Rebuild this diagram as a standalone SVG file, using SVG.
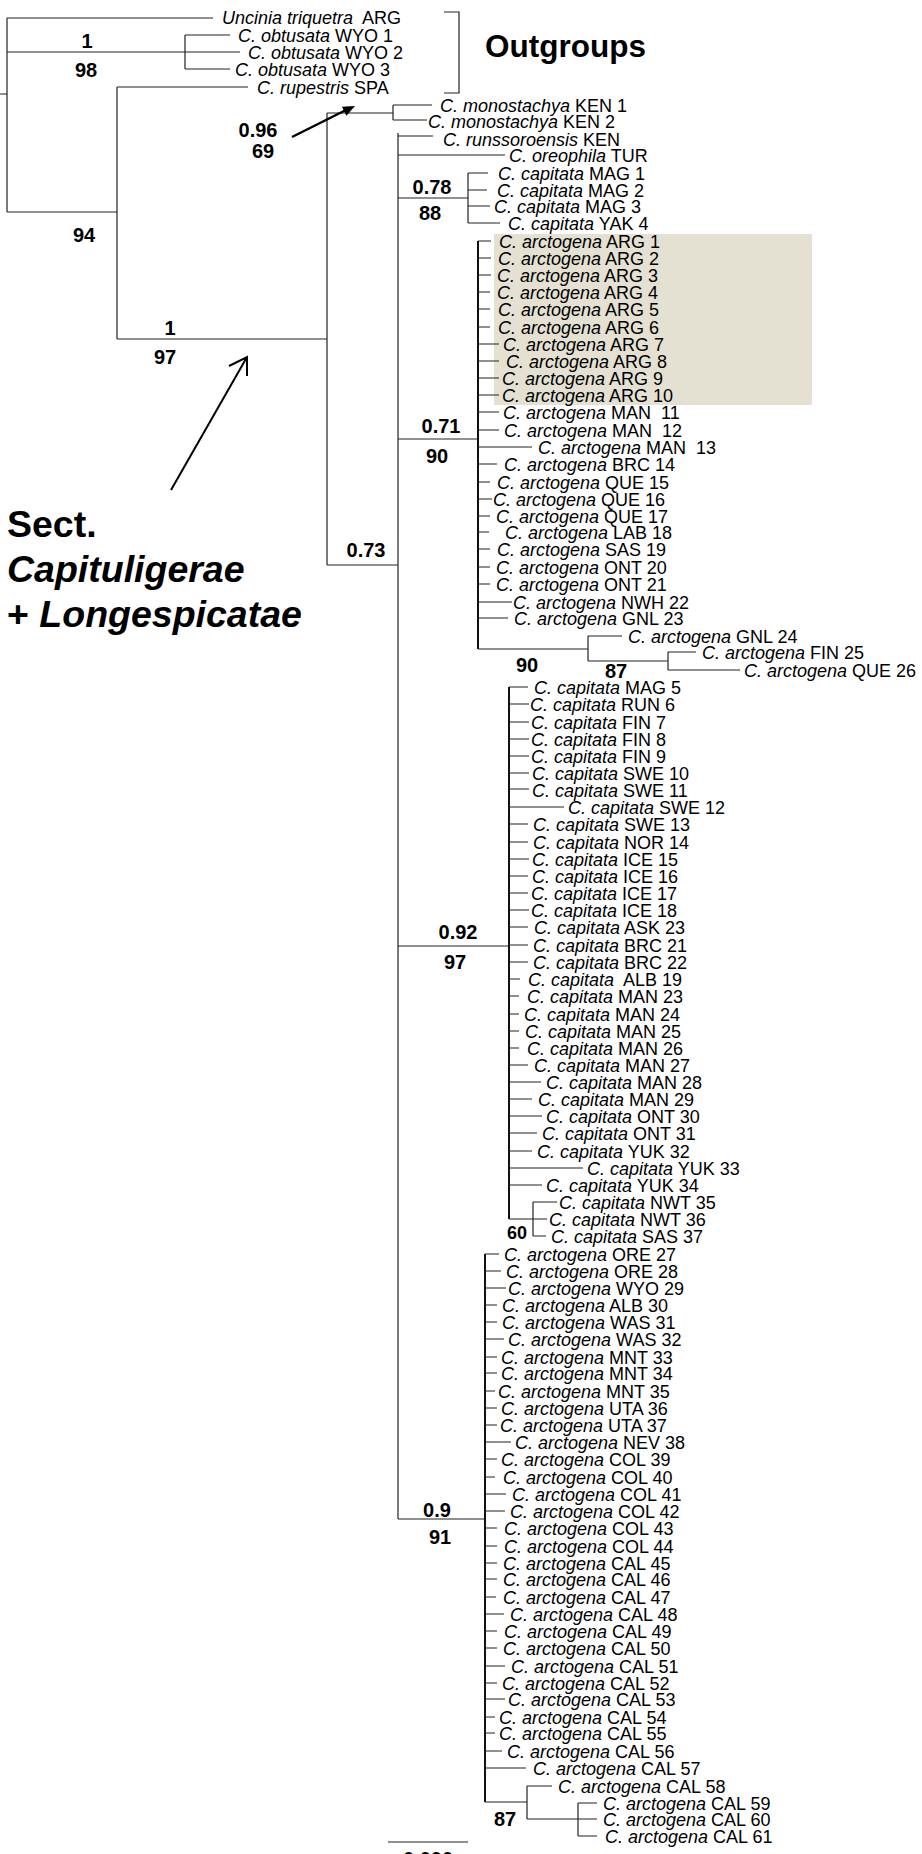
<svg xmlns="http://www.w3.org/2000/svg" width="922" height="1854" viewBox="0 0 922 1854">
<defs>
<style>
text{font-family:"Liberation Sans",Arial,sans-serif;fill:#000;white-space:pre}
.lf{font-size:18px}
.i{font-style:italic}
.s{font-size:20px;font-weight:bold;text-anchor:middle}
.br{fill:none;stroke:#222;stroke-width:1.2}
.th{fill:none;stroke:#111;stroke-width:2}
.big{font-size:37.5px;font-weight:bold}
</style>
</defs>
<rect width="922" height="1854" fill="#fff"/>
<rect id="highlight" x="494" y="234" width="318" height="171" fill="#E4E1D3"/>

<g id="connectors">
<path class="br" d="M0 94H7M7 18V212M7 18H213M7 52H185M7 212H117
M185 35V69M185 35H230M185 52H240M185 69H230
M117 87V339M117 87H248M117 339H327
M327 113V565M327 113H393M327 565H398
M393 105V120M393 105H432M393 120H427
M398 136H433M398 155H505M398 198H468M398 439H478M398 946H509M398 1519H485
M468 173V223M468 173H488M468 190H487M468 206H490M468 223H500"/>
<path class="br" d="M398 133V1519"/>
<path class="th" d="M478 241V649M509 687V1219M485 1254V1802"/>
<path class="br" d="M478 241H491M478 258H491M478 275H491M478 292H490M478 309H490M478 327H490M478 344H499M478 361H499M478 378H499M478 395H499M478 412H499M478 430H499M478 447H532M478 464H497M478 482H490M478 499H492M478 516H490M478 532H489M478 549H490M478 567H490M478 584H490M478 602H512M478 618H508M478 649H588
M588 636V661M588 636H622M588 661H668M668 652V670M668 652H696M668 670H740"/>
<path class="br" d="M509 687H528M509 704H529M509 722H529M509 739H529M509 756H529M509 773H529M509 789H529M509 807H564M509 824H528M509 842H528M509 859H529M509 876H528M509 893H528M509 910H529M509 927H528M509 945H528M509 962H528M509 979H520M509 996H519M509 1014H519M509 1031H519M509 1048H519M509 1065H528M509 1082H541M509 1099H532M509 1116H542M509 1133H537M509 1151H532M509 1168H583M509 1185H542M509 1219H533
M533 1202V1236M533 1202H557M533 1219H547M533 1236H546"/>
<path class="br" d="M485 1254H499M485 1271H501M485 1288H506M485 1305H497M485 1322H497M485 1339H504M485 1357H497M485 1373H497M485 1391H495M485 1408H497M485 1425H497M485 1442H511M485 1459H497M485 1477H495M485 1494H506M485 1511H505M485 1528H497M485 1546H497M485 1563H497M485 1579H497M485 1597H496M485 1614H504M485 1631H497M485 1648H497M485 1666H505M485 1683H497M485 1699H505M485 1717H495M485 1733H495M485 1751H502M485 1768H526M485 1802H527
M527 1786V1819M527 1786H552M527 1819H597M578 1803V1836M578 1803H597M578 1836H597"/>
<path id="bracket" class="br" stroke="#000" stroke-width="1.6" d="M444 12H459V93H444"/>
<path id="scalebar" class="br" d="M388 1842H468"/>
<path id="arrow1" d="M292 137L346 110" stroke="#000" stroke-width="2.5" fill="none"/>
<polygon points="355,106 346.4,115.8 342,106.8" fill="#000"/>
<path id="arrow2" d="M171 490L247 357M229 366L247 357L247 376" stroke="#000" stroke-width="2" fill="none"/>
</g>

<g id="support">
<text class="s" x="87" y="48">1</text>
<text class="s" x="86" y="77">98</text>
<text class="s" x="84" y="242">94</text>
<text class="s" x="258" y="137">0.96</text>
<text class="s" x="263" y="158">69</text>
<text class="s" x="170" y="335">1</text>
<text class="s" x="165" y="364">97</text>
<text class="s" x="432" y="194">0.78</text>
<text class="s" x="430" y="220">88</text>
<text class="s" x="441" y="433">0.71</text>
<text class="s" x="437" y="463">90</text>
<text class="s" x="366" y="557">0.73</text>
<text class="s" x="527" y="672">90</text>
<text class="s" x="616" y="678">87</text>
<text class="s" x="458" y="939">0.92</text>
<text class="s" x="455" y="969">97</text>
<text class="s" x="517" y="1239" style="font-size:18px">60</text>
<text class="s" x="437" y="1517">0.9</text>
<text class="s" x="440" y="1544">91</text>
<text class="s" x="505" y="1826">87</text>
<text class="s" x="428" y="1866">0.000</text>
</g>

<g id="titles">
<text x="485" y="57" style="font-size:31.5px;font-weight:bold">Outgroups</text>
<text class="big" x="7" y="537">Sect.</text>
<text class="big i" x="7" y="582">Capituligerae</text>
<text class="big" x="7" y="627">+ <tspan class="i">Longespicatae</tspan></text>
</g>

<g id="leaves" class="lf">
<g id="t-uncinia"><text class="lf" x="222" y="24"><tspan class="i">Uncinia triquetra</tspan>  ARG</text></g>
<g id="t-obt1"><text class="lf" x="238" y="42"><tspan class="i">C. obtusata</tspan> WYO 1</text></g>
<g id="t-obt2"><text class="lf" x="248" y="59"><tspan class="i">C. obtusata</tspan> WYO 2</text></g>
<g id="t-obt3"><text class="lf" x="235" y="76"><tspan class="i">C. obtusata</tspan> WYO 3</text></g>
<g id="t-rup"><text class="lf" x="257" y="94"><tspan class="i">C. rupestris</tspan> SPA</text></g>
<g id="t-ken1"><text class="lf" x="440" y="112"><tspan class="i">C. monostachya</tspan> KEN 1</text></g>
<g id="t-ken2"><text class="lf" x="428" y="128"><tspan class="i">C. monostachya</tspan> KEN 2</text></g>
<g id="t-runs"><text class="lf" x="443" y="146"><tspan class="i">C. runssoroensis</tspan> KEN</text></g>
<g id="t-ore"><text class="lf" x="509" y="162"><tspan class="i">C. oreophila</tspan> TUR</text></g>
<g id="t-mag1"><text class="lf" x="498" y="180"><tspan class="i">C. capitata</tspan> MAG 1</text></g>
<g id="t-mag2"><text class="lf" x="497" y="197"><tspan class="i">C. capitata</tspan> MAG 2</text></g>
<g id="t-mag3"><text class="lf" x="494" y="213"><tspan class="i">C. capitata</tspan> MAG 3</text></g>
<g id="t-yak4"><text class="lf" x="508" y="230"><tspan class="i">C. capitata</tspan> YAK 4</text></g>

<g id="t-arg1"><text class="lf" x="499" y="248"><tspan class="i">C. arctogena</tspan> ARG 1</text></g>
<g id="t-arg2"><text class="lf" x="498" y="265"><tspan class="i">C. arctogena</tspan> ARG 2</text></g>
<g id="t-arg3"><text class="lf" x="497" y="282"><tspan class="i">C. arctogena</tspan> ARG 3</text></g>
<g id="t-arg4"><text class="lf" x="497" y="299"><tspan class="i">C. arctogena</tspan> ARG 4</text></g>
<g id="t-arg5"><text class="lf" x="498" y="316"><tspan class="i">C. arctogena</tspan> ARG 5</text></g>
<g id="t-arg6"><text class="lf" x="498" y="334"><tspan class="i">C. arctogena</tspan> ARG 6</text></g>
<g id="t-arg7"><text class="lf" x="503" y="351"><tspan class="i">C. arctogena</tspan> ARG 7</text></g>
<g id="t-arg8"><text class="lf" x="506" y="368"><tspan class="i">C. arctogena</tspan> ARG 8</text></g>
<g id="t-arg9"><text class="lf" x="502" y="385"><tspan class="i">C. arctogena</tspan> ARG 9</text></g>
<g id="t-arg10"><text class="lf" x="502" y="402"><tspan class="i">C. arctogena</tspan> ARG 10</text></g>
<g id="t-man11"><text class="lf" x="503" y="419"><tspan class="i">C. arctogena</tspan> MAN  11</text></g>
<g id="t-man12"><text class="lf" x="504" y="437"><tspan class="i">C. arctogena</tspan> MAN  12</text></g>
<g id="t-man13"><text class="lf" x="538" y="454"><tspan class="i">C. arctogena</tspan> MAN  13</text></g>
<g id="t-brc14"><text class="lf" x="504" y="471"><tspan class="i">C. arctogena</tspan> BRC 14</text></g>
<g id="t-que15"><text class="lf" x="497" y="489"><tspan class="i">C. arctogena</tspan> QUE 15</text></g>
<g id="t-que16"><text class="lf" x="493" y="506"><tspan class="i">C. arctogena</tspan> QUE 16</text></g>
<g id="t-que17"><text class="lf" x="496" y="523"><tspan class="i">C. arctogena</tspan> QUE 17</text></g>
<g id="t-lab18"><text class="lf" x="505" y="539"><tspan class="i">C. arctogena</tspan> LAB 18</text></g>
<g id="t-sas19"><text class="lf" x="497" y="556"><tspan class="i">C. arctogena</tspan> SAS 19</text></g>
<g id="t-ont20"><text class="lf" x="496" y="574"><tspan class="i">C. arctogena</tspan> ONT 20</text></g>
<g id="t-ont21"><text class="lf" x="496" y="591"><tspan class="i">C. arctogena</tspan> ONT 21</text></g>
<g id="t-nwh22"><text class="lf" x="513" y="609"><tspan class="i">C. arctogena</tspan> NWH 22</text></g>
<g id="t-gnl23"><text class="lf" x="514" y="625"><tspan class="i">C. arctogena</tspan> GNL 23</text></g>
<g id="t-gnl24"><text class="lf" x="628" y="643"><tspan class="i">C. arctogena</tspan> GNL 24</text></g>
<g id="t-fin25"><text class="lf" x="702" y="659"><tspan class="i">C. arctogena</tspan> FIN 25</text></g>
<g id="t-que26"><text class="lf" x="744" y="677"><tspan class="i">C. arctogena</tspan> QUE 26</text></g>

<g id="t-mag5"><text class="lf" x="534" y="694"><tspan class="i">C. capitata</tspan> MAG 5</text></g>
<g id="t-run6"><text class="lf" x="530" y="711"><tspan class="i">C. capitata</tspan> RUN 6</text></g>
<g id="t-fin7"><text class="lf" x="531" y="729"><tspan class="i">C. capitata</tspan> FIN 7</text></g>
<g id="t-fin8"><text class="lf" x="531" y="746"><tspan class="i">C. capitata</tspan> FIN 8</text></g>
<g id="t-fin9"><text class="lf" x="531" y="763"><tspan class="i">C. capitata</tspan> FIN 9</text></g>
<g id="t-swe10"><text class="lf" x="532" y="780"><tspan class="i">C. capitata</tspan> SWE 10</text></g>
<g id="t-swe11"><text class="lf" x="532" y="797"><tspan class="i">C. capitata</tspan> SWE 11</text></g>
<g id="t-swe12"><text class="lf" x="568" y="814"><tspan class="i">C. capitata</tspan> SWE 12</text></g>
<g id="t-swe13"><text class="lf" x="533" y="831"><tspan class="i">C. capitata</tspan> SWE 13</text></g>
<g id="t-nor14"><text class="lf" x="533" y="849"><tspan class="i">C. capitata</tspan> NOR 14</text></g>
<g id="t-ice15"><text class="lf" x="532" y="866"><tspan class="i">C. capitata</tspan> ICE 15</text></g>
<g id="t-ice16"><text class="lf" x="532" y="883"><tspan class="i">C. capitata</tspan> ICE 16</text></g>
<g id="t-ice17"><text class="lf" x="531" y="900"><tspan class="i">C. capitata</tspan> ICE 17</text></g>
<g id="t-ice18"><text class="lf" x="531" y="917"><tspan class="i">C. capitata</tspan> ICE 18</text></g>
<g id="t-ask23"><text class="lf" x="534" y="934"><tspan class="i">C. capitata</tspan> ASK 23</text></g>
<g id="t-brc21"><text class="lf" x="533" y="952"><tspan class="i">C. capitata</tspan> BRC 21</text></g>
<g id="t-brc22"><text class="lf" x="533" y="969"><tspan class="i">C. capitata</tspan> BRC 22</text></g>
<g id="t-alb19"><text class="lf" x="528" y="986"><tspan class="i">C. capitata</tspan>  ALB 19</text></g>
<g id="t-man23"><text class="lf" x="527" y="1003"><tspan class="i">C. capitata</tspan> MAN 23</text></g>
<g id="t-man24"><text class="lf" x="524" y="1021"><tspan class="i">C. capitata</tspan> MAN 24</text></g>
<g id="t-man25"><text class="lf" x="525" y="1038"><tspan class="i">C. capitata</tspan> MAN 25</text></g>
<g id="t-man26"><text class="lf" x="527" y="1055"><tspan class="i">C. capitata</tspan> MAN 26</text></g>
<g id="t-man27"><text class="lf" x="534" y="1072"><tspan class="i">C. capitata</tspan> MAN 27</text></g>
<g id="t-man28"><text class="lf" x="546" y="1089"><tspan class="i">C. capitata</tspan> MAN 28</text></g>
<g id="t-man29"><text class="lf" x="538" y="1106"><tspan class="i">C. capitata</tspan> MAN 29</text></g>
<g id="t-ont30"><text class="lf" x="546" y="1123"><tspan class="i">C. capitata</tspan> ONT 30</text></g>
<g id="t-ont31"><text class="lf" x="542" y="1140"><tspan class="i">C. capitata</tspan> ONT 31</text></g>
<g id="t-yuk32"><text class="lf" x="537" y="1158"><tspan class="i">C. capitata</tspan> YUK 32</text></g>
<g id="t-yuk33"><text class="lf" x="587" y="1175"><tspan class="i">C. capitata</tspan> YUK 33</text></g>
<g id="t-yuk34"><text class="lf" x="546" y="1192"><tspan class="i">C. capitata</tspan> YUK 34</text></g>
<g id="t-nwt35"><text class="lf" x="559" y="1209"><tspan class="i">C. capitata</tspan> NWT 35</text></g>
<g id="t-nwt36"><text class="lf" x="549" y="1226"><tspan class="i">C. capitata</tspan> NWT 36</text></g>
<g id="t-sas37"><text class="lf" x="551" y="1243"><tspan class="i">C. capitata</tspan> SAS 37</text></g>

<g id="t-ore27"><text class="lf" x="504" y="1261"><tspan class="i">C. arctogena</tspan> ORE 27</text></g>
<g id="t-ore28"><text class="lf" x="506" y="1278"><tspan class="i">C. arctogena</tspan> ORE 28</text></g>
<g id="t-wyo29"><text class="lf" x="508" y="1295"><tspan class="i">C. arctogena</tspan> WYO 29</text></g>
<g id="t-alb30"><text class="lf" x="502" y="1312"><tspan class="i">C. arctogena</tspan> ALB 30</text></g>
<g id="t-was31"><text class="lf" x="502" y="1329"><tspan class="i">C. arctogena</tspan> WAS 31</text></g>
<g id="t-was32"><text class="lf" x="508" y="1346"><tspan class="i">C. arctogena</tspan> WAS 32</text></g>
<g id="t-mnt33"><text class="lf" x="501" y="1364"><tspan class="i">C. arctogena</tspan> MNT 33</text></g>
<g id="t-mnt34"><text class="lf" x="501" y="1380"><tspan class="i">C. arctogena</tspan> MNT 34</text></g>
<g id="t-mnt35"><text class="lf" x="498" y="1398"><tspan class="i">C. arctogena</tspan> MNT 35</text></g>
<g id="t-uta36"><text class="lf" x="501" y="1415"><tspan class="i">C. arctogena</tspan> UTA 36</text></g>
<g id="t-uta37"><text class="lf" x="500" y="1432"><tspan class="i">C. arctogena</tspan> UTA 37</text></g>
<g id="t-nev38"><text class="lf" x="515" y="1449"><tspan class="i">C. arctogena</tspan> NEV 38</text></g>
<g id="t-col39"><text class="lf" x="501" y="1466"><tspan class="i">C. arctogena</tspan> COL 39</text></g>
<g id="t-col40"><text class="lf" x="503" y="1484"><tspan class="i">C. arctogena</tspan> COL 40</text></g>
<g id="t-col41"><text class="lf" x="512" y="1501"><tspan class="i">C. arctogena</tspan> COL 41</text></g>
<g id="t-col42"><text class="lf" x="510" y="1518"><tspan class="i">C. arctogena</tspan> COL 42</text></g>
<g id="t-col43"><text class="lf" x="504" y="1535"><tspan class="i">C. arctogena</tspan> COL 43</text></g>
<g id="t-col44"><text class="lf" x="504" y="1553"><tspan class="i">C. arctogena</tspan> COL 44</text></g>
<g id="t-cal45"><text class="lf" x="503" y="1570"><tspan class="i">C. arctogena</tspan> CAL 45</text></g>
<g id="t-cal46"><text class="lf" x="503" y="1586"><tspan class="i">C. arctogena</tspan> CAL 46</text></g>
<g id="t-cal47"><text class="lf" x="503" y="1604"><tspan class="i">C. arctogena</tspan> CAL 47</text></g>
<g id="t-cal48"><text class="lf" x="510" y="1621"><tspan class="i">C. arctogena</tspan> CAL 48</text></g>
<g id="t-cal49"><text class="lf" x="504" y="1638"><tspan class="i">C. arctogena</tspan> CAL 49</text></g>
<g id="t-cal50"><text class="lf" x="503" y="1655"><tspan class="i">C. arctogena</tspan> CAL 50</text></g>
<g id="t-cal51"><text class="lf" x="511" y="1673"><tspan class="i">C. arctogena</tspan> CAL 51</text></g>
<g id="t-cal52"><text class="lf" x="502" y="1690"><tspan class="i">C. arctogena</tspan> CAL 52</text></g>
<g id="t-cal53"><text class="lf" x="508" y="1706"><tspan class="i">C. arctogena</tspan> CAL 53</text></g>
<g id="t-cal54"><text class="lf" x="499" y="1724"><tspan class="i">C. arctogena</tspan> CAL 54</text></g>
<g id="t-cal55"><text class="lf" x="499" y="1740"><tspan class="i">C. arctogena</tspan> CAL 55</text></g>
<g id="t-cal56"><text class="lf" x="507" y="1758"><tspan class="i">C. arctogena</tspan> CAL 56</text></g>
<g id="t-cal57"><text class="lf" x="533" y="1775"><tspan class="i">C. arctogena</tspan> CAL 57</text></g>
<g id="t-cal58"><text class="lf" x="558" y="1793"><tspan class="i">C. arctogena</tspan> CAL 58</text></g>
<g id="t-cal59"><text class="lf" x="603" y="1810"><tspan class="i">C. arctogena</tspan> CAL 59</text></g>
<g id="t-cal60"><text class="lf" x="603" y="1826"><tspan class="i">C. arctogena</tspan> CAL 60</text></g>
<g id="t-cal61"><text class="lf" x="605" y="1843"><tspan class="i">C. arctogena</tspan> CAL 61</text></g>
</g>
</svg>
